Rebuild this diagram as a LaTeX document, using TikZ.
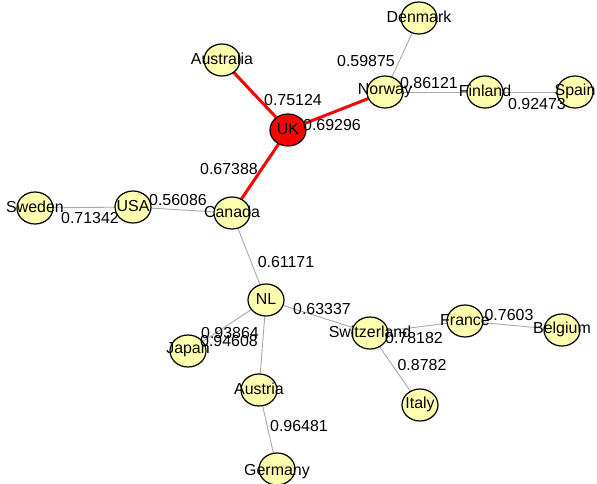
\documentclass[tikz,border=0pt]{standalone}
\usepackage{fontspec}
\setmainfont{Liberation Sans}
\usetikzlibrary{shapes.geometric}
\pgfdeclarelayer{background}
\pgfdeclarelayer{foreground}
\pgfsetlayers{background,main,foreground}
\definecolor{nodeyellow}{HTML}{FFFFB0}
\definecolor{edgegray}{HTML}{A8A8A8}
\definecolor{hotred}{HTML}{FF0000}
\begin{document}
\begin{tikzpicture}[x=1bp,y=-1bp,
  nd/.style={ellipse, draw=black, line width=1.2bp, fill=nodeyellow, minimum width=36bp, minimum height=32bp, inner sep=0pt},
  hot/.style={nd, fill=hotred},
  txt/.style={font=\fontsize{16}{19}\selectfont, inner sep=0pt, anchor=center, text=black},
  lite/.style={draw=edgegray, line width=0.9bp},
  heavy/.style={draw=hotred, line width=3bp}]
\useasboundingbox (0,0) rectangle (597,484);
% nodes
\node[nd] (den) at (419,18) {};
\node[nd] (aus) at (222,60) {};
\node[nd] (nor) at (385,92) {};
\node[nd] (fin) at (485,92) {};
\node[nd] (spa) at (575,92) {};
\node[hot] (uk) at (288,130) {};
\node[nd] (swe) at (35,208) {};
\node[nd] (usa) at (133,207) {};
\node[nd] (can) at (232,213) {};
\node[nd] (nl) at (266,300) {};
\node[nd] (jap) at (188,351) {};
\node[nd] (swi) at (370,333) {};
\node[nd] (fra) at (465,321) {};
\node[nd] (bel) at (562,330) {};
\node[nd] (aut) at (259,390) {};
\node[nd] (ita) at (420,405) {};
\node[nd] (ger) at (277,469) {};
% edges
\begin{pgfonlayer}{background}
\draw[heavy] (uk.center) -- (aus.center);
\draw[heavy] (uk.center) -- (nor.center);
\draw[heavy] (uk.center) -- (can.center);
\draw[lite] (nor.center) -- (den.center);
\draw[lite] (nor.center) -- (fin.center);
\draw[lite] (fin.center) -- (spa.center);
\draw[lite] (can.center) -- (usa.center);
\draw[lite] (usa.center) -- (swe.center);
\draw[lite] (can.center) -- (nl.center);
\draw[lite] (nl.center) -- (jap.center);
\draw[lite] (nl.center) -- (swi.center);
\draw[lite] (nl.center) -- (aut.center);
\draw[lite] (aut.center) -- (ger.center);
\draw[lite] (swi.center) -- (fra.center);
\draw[lite] (fra.center) -- (bel.center);
\draw[lite] (swi.center) -- (ita.center);
\end{pgfonlayer}
% texts
\begin{pgfonlayer}{foreground}
\node[txt] (tden) at ([yshift=1bp]den) {Denmark};
\node[txt] (taus) at ([yshift=1bp]aus) {Australia};
\node[txt] (tnor) at ([yshift=1bp]nor) {Norway};
\node[txt] (tfin) at ([yshift=1bp]fin) {Finland};
\node[txt] (tspa) at ([yshift=1bp]spa) {Spain};
\node[txt] (tuk) at ([yshift=1bp]uk) {UK};
\node[txt] (tswe) at ([yshift=1bp]swe) {Sweden};
\node[txt] (tusa) at ([yshift=1bp]usa) {USA};
\node[txt] (tcan) at ([yshift=1bp]can) {Canada};
\node[txt] (tnl) at ([yshift=1bp]nl) {NL};
\node[txt] (tjap) at ([yshift=1bp]jap) {Japan};
\node[txt] (tswi) at ([yshift=1bp]swi) {Switzerland};
\node[txt] (tfra) at ([yshift=1bp]fra) {France};
\node[txt] (tbel) at ([yshift=1bp]bel) {Belgium};
\node[txt] (taut) at ([yshift=1bp]aut) {Austria};
\node[txt] (tita) at ([yshift=1bp]ita) {Italy};
\node[txt] (tger) at ([yshift=-3bp]ger) {Germany};
% edge labels
\node[txt] (l1) at (366,61) {0.59875};
\node[txt] (l2) at (293,100) {0.75124};
\node[txt] (l3) at (332,125) {0.69296};
\node[txt] (l4) at (429,83) {0.86121};
\node[txt] (l5) at (537,104) {0.92473};
\node[txt] (l6) at (229,169) {0.67388};
\node[txt] (l7) at (178,200) {0.56086};
\node[txt] (l8) at (90,218) {0.71342};
\node[txt] (l9) at (286,262) {0.61171};
\node[txt] (l10) at (322,309) {0.63337};
\node[txt] (l11) at (230,333) {0.93864};
\node[txt] (l12) at (229,341) {0.94608};
\node[txt] (l13) at (509,315) {0.7603};
\node[txt] (l14) at (414,338) {0.78182};
\node[txt] (l15) at (422,365) {0.8782};
\node[txt] (l16) at (299,426) {0.96481};
\end{pgfonlayer}
\end{tikzpicture}
\end{document}
